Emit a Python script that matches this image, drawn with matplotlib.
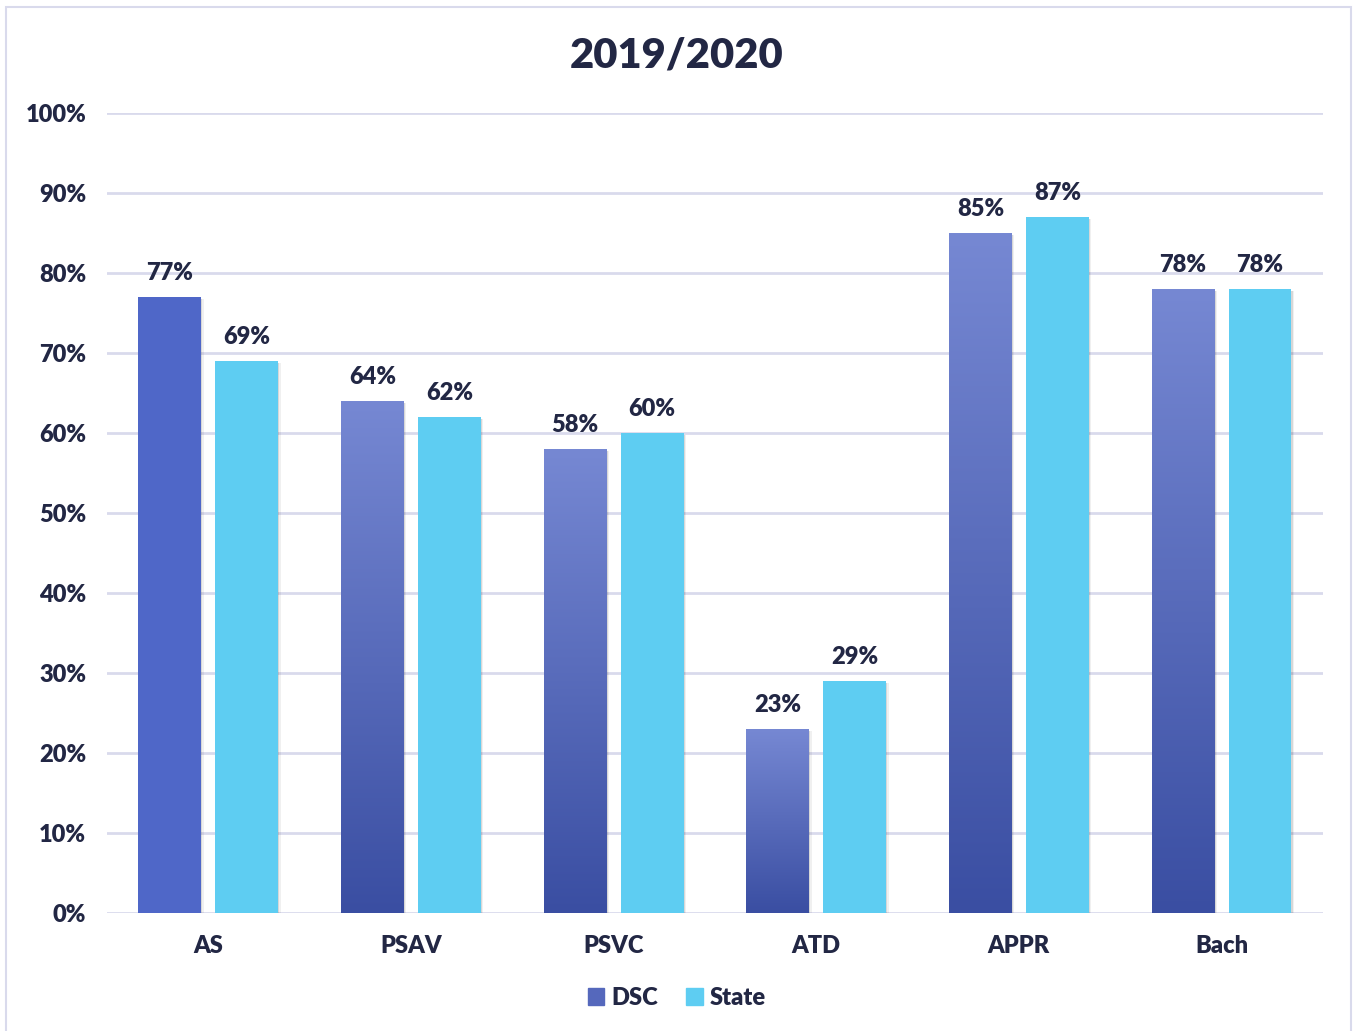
import numpy as np
import matplotlib
matplotlib.use('Agg')
import matplotlib.pyplot as plt
from matplotlib.patches import Rectangle
from matplotlib.colors import LinearSegmentedColormap

categories = ['AS', 'PSAV', 'PSVC', 'ATD', 'APPR', 'Bach']
dsc = [77, 64, 58, 23, 85, 78]
state = [69, 62, 60, 29, 87, 78]
yticks = [0, 10, 20, 30, 40, 50, 60, 70, 80, 90, 100]

text_col = '#222744'
grid_col = '#D9DAEC'
state_col = '#5ECDF2'
as_col = '#4F67C8'
grad = LinearSegmentedColormap.from_list('dsc', ['#3A4EA2', '#7688D3'])

plt.rcParams['font.family'] = ['Lato', 'DejaVu Sans']
wt = 'heavy'

fig = plt.figure(figsize=(13.54, 10.31), dpi=100)
ax = fig.add_axes([0.079, 0.1145, 0.898, 0.7759])

# outer frame
fig.patches.append(Rectangle((6/1354, -0.02), 1345/1354, 1.0 - 7/1031 + 0.02,
                             transform=fig.transFigure, fill=False,
                             edgecolor=grid_col, linewidth=1.5))

x = np.arange(len(categories))
w = 0.31
off = 0.19

for yv in yticks:
    ax.axhline(yv, color=grid_col, linewidth=2, zorder=0)

for i in range(len(categories)):
    # DSC bar
    x0 = x[i] - off - w/2
    for k, a in [(0.006, 0.10), (0.012, 0.06)]:
        ax.add_patch(Rectangle((x0 + k, -0.3), w, dsc[i], color='black', alpha=a, zorder=1, linewidth=0))
    if i == 0:
        ax.add_patch(Rectangle((x0, 0), w, dsc[i], color=as_col, zorder=2, linewidth=0))
    else:
        g = np.linspace(0, 1, 256).reshape(-1, 1)
        ax.imshow(g, cmap=grad, origin='lower', extent=[x0, x0 + w, 0, dsc[i]],
                  aspect='auto', zorder=2, interpolation='bilinear')
    ax.text(x[i] - off, dsc[i] + 1.6, f'{dsc[i]}%', ha='center', va='bottom',
            fontsize=17, fontweight=wt, color=text_col)
    # State bar
    x1 = x[i] + off - w/2
    for k, a in [(0.006, 0.10), (0.012, 0.06)]:
        ax.add_patch(Rectangle((x1 + k, -0.3), w, state[i], color='black', alpha=a, zorder=1, linewidth=0))
    ax.add_patch(Rectangle((x1, 0), w, state[i], color=state_col, zorder=2, linewidth=0))
    ax.text(x[i] + off, state[i] + 1.6, f'{state[i]}%', ha='center', va='bottom',
            fontsize=17, fontweight=wt, color=text_col)

ax.set_xlim(-0.5, len(categories) - 0.5)
ax.set_ylim(0, 100)
ax.set_xticks(x)
ax.set_xticklabels(categories, fontsize=17, fontweight=wt, color=text_col)
ax.set_yticks(yticks)
ax.set_yticklabels([f'{v}%' for v in yticks], fontsize=17, fontweight=wt, color=text_col)
ax.tick_params(axis='x', length=0, pad=16)
ax.tick_params(axis='y', length=0, pad=15)
for s in ax.spines.values():
    s.set_visible(False)

fig.text(0.5, 1 - 55/1031, '2019/2020', ha='center', va='center',
         fontsize=30, fontweight=wt, color=text_col)

handles = [Rectangle((0, 0), 1, 1, color='#5568BC'), Rectangle((0, 0), 1, 1, color=state_col)]
fig.legend(handles, ['DSC', 'State'], loc='center', bbox_to_anchor=(0.5, 1 - 998/1031),
           ncol=2, frameon=False, handlelength=0.7, handleheight=0.7,
           handletextpad=0.3, columnspacing=1.2, labelcolor=text_col,
           prop={'weight': wt, 'size': 17})

fig.savefig('out.png', dpi=100, facecolor='white')
